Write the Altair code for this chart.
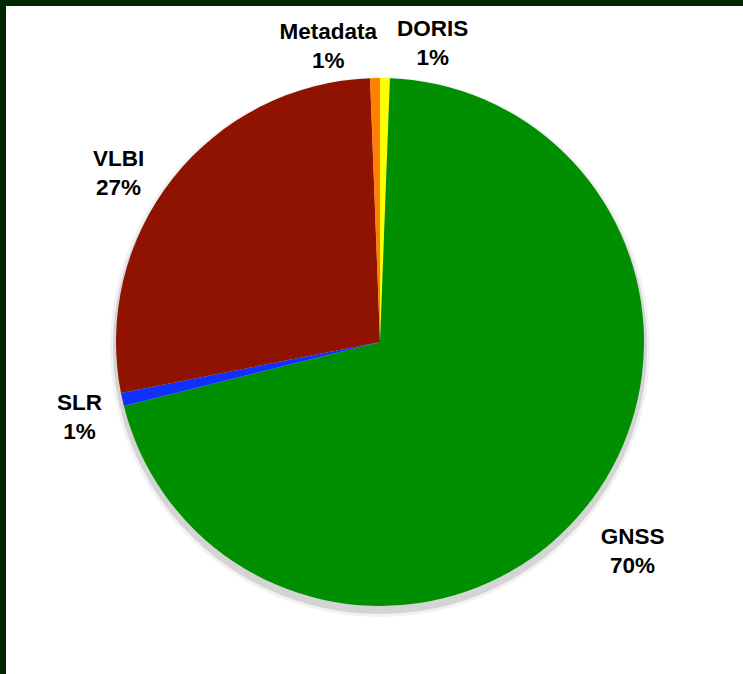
import altair as alt
import pandas as pd

names = ["DORIS", "GNSS", "SLR", "VLBI", "Metadata"]
values = [0.6, 70.5, 0.8, 27.5, 0.6]
pct_labels = ["1%", "70%", "1%", "27%", "1%"]
colors = ["#ffff00", "#008f00", "#1030ff", "#8f1300", "#ff7f00"]

df = pd.DataFrame({
    "name": names,
    "value": values,
    "pct": pct_labels,
    "order": list(range(len(names))),
})
df["label"] = df["name"] + "\n" + df["pct"]
total = float(sum(values))

CX, CY = 374, 336
theta_scale = alt.Scale(domain=[0, total])

base = alt.Chart(df)

shadow1 = base.mark_arc(radius=270, color="#000000", opacity=0.05).encode(
    theta=alt.Theta("value:Q", stack=True, scale=theta_scale),
    order=alt.Order("order:Q"),
    x=alt.value(CX), y=alt.value(CY + 5))
shadow2 = base.mark_arc(radius=267, color="#000000", opacity=0.12).encode(
    theta=alt.Theta("value:Q", stack=True, scale=theta_scale),
    order=alt.Order("order:Q"),
    x=alt.value(CX), y=alt.value(CY + 5))

pie = base.mark_arc(radius=264).encode(
    theta=alt.Theta("value:Q", stack=True, scale=theta_scale),
    order=alt.Order("order:Q"),
    color=alt.Color("name:N", scale=alt.Scale(domain=names, range=colors), legend=None),
    x=alt.value(CX), y=alt.value(CY))

label_base = base.transform_window(
    cum="sum(value)", sort=[alt.SortField("order")], frame=[None, 0]
).transform_calculate(mid="datum.cum - datum.value / 2")

label_specs = {
    "GNSS": dict(radius=324, dx=1, dy=-9),
    "VLBI": dict(radius=313, dx=-16, dy=11),
    "SLR": dict(radius=309, dx=1, dy=-6),
    "Metadata": dict(radius=300, dx=-46, dy=-10),
    "DORIS": dict(radius=300, dx=47, dy=-13),
}

layers = [shadow1, shadow2, pie]
for nm, sp in label_specs.items():
    layers.append(
        label_base.transform_filter(alt.datum.name == nm).mark_text(
            lineBreak="\n", font="Liberation Sans", fontSize=22.5, fontWeight="bold",
            color="#000000", align="center", baseline="middle", lineHeight=29,
            radius=sp["radius"], dx=sp["dx"], dy=sp["dy"],
        ).encode(
            theta=alt.Theta("mid:Q", stack=None, scale=theta_scale),
            text="label:N",
            x=alt.value(CX), y=alt.value(CY))
    )

chart = alt.layer(*layers).properties(
    width=737, height=668,
    autosize=alt.AutoSizeParams(type="none"),
    padding={"left": 6, "top": 6, "right": 0, "bottom": 0},
    background="#012801",
).configure_view(fill="#ffffff", stroke=None)

chart.save("out.html", embed_options={"renderer": "svg", "actions": False})
